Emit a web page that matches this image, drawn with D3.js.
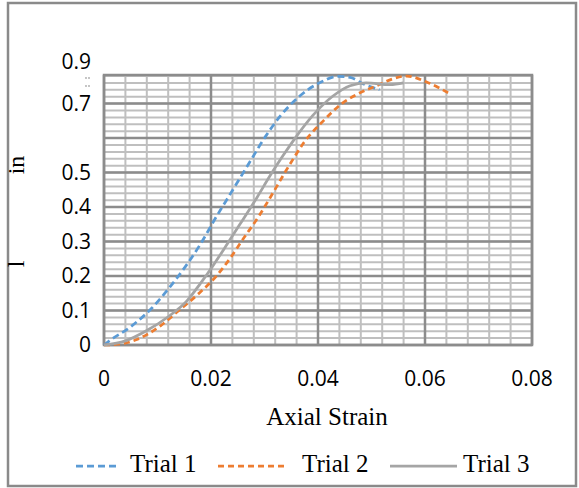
<!DOCTYPE html>
<html><head><meta charset="utf-8">
<script src="https://cdn.jsdelivr.net/npm/d3@7"></script>
<style>html,body{margin:0;padding:0;background:#fff;}</style>
</head><body>
<svg id="chart" width="579" height="488"></svg>
<script>
const trial1 = [[0,0],[0.001,0.012],[0.005,0.053],[0.009,0.108],[0.0123,0.168],[0.0157,0.238],[0.018,0.292],[0.021,0.372],[0.024,0.448],[0.0273,0.532],[0.0302,0.605],[0.033,0.665],[0.0366,0.722],[0.0405,0.762],[0.0437,0.779],[0.046,0.776],[0.0485,0.757],[0.0515,0.74]];
const trial2 = [[0,0],[0.003,0.003],[0.006,0.015],[0.008,0.03],[0.0105,0.055],[0.0136,0.095],[0.0174,0.145],[0.021,0.2],[0.0236,0.252],[0.0258,0.303],[0.029,0.375],[0.0307,0.418],[0.0323,0.46],[0.0338,0.5],[0.0355,0.543],[0.0374,0.588],[0.041,0.65],[0.0447,0.703],[0.0473,0.727],[0.051,0.752],[0.054,0.772],[0.0566,0.78],[0.0604,0.762],[0.0645,0.73]];
const trial3 = [[0,0],[0.004,0.012],[0.008,0.042],[0.012,0.082],[0.0155,0.128],[0.018,0.178],[0.0205,0.233],[0.0227,0.285],[0.0254,0.35],[0.0286,0.428],[0.031,0.49],[0.0335,0.55],[0.0355,0.595],[0.039,0.665],[0.0428,0.722],[0.046,0.752],[0.049,0.76],[0.0535,0.755],[0.056,0.76]];
const seriesNames = ["Trial 1","Trial 2","Trial 3"];
const xTickValues = [0,0.02,0.04,0.06,0.08];
const xTickLabels = ["0","0.02","0.04","0.06","0.08"];
const yTickValues = [0,0.1,0.2,0.3,0.4,0.5,0.7,0.82];
const yTickLabels = ["0","0.1","0.2","0.3","0.4","0.5","0.7","0.9"];
const xTitle = "Axial Strain";

const svg = d3.select("#chart");
const L=104, R=532, T=75, B=345;
const x = d3.scaleLinear().domain([0,0.08]).range([L,R]);
const y = d3.scaleLinear().domain([0,0.783]).range([B,T]);

// outer border
svg.append("rect").attr("x",8).attr("y",3).attr("width",568).attr("height",483)
  .attr("fill","#fff").attr("stroke","#8a8a8a").attr("stroke-width",2.5);

const g = svg.append("g");
// minor grid
const xMinor = d3.range(0,0.0801,0.004);
const yMinor = d3.range(0,0.781,0.02);
g.selectAll(".vmin").data(xMinor).join("line")
  .attr("x1",d=>x(d)).attr("x2",d=>x(d)).attr("y1",T).attr("y2",B)
  .attr("stroke","#bfbfbf").attr("stroke-width",2);
g.selectAll(".hmin").data(yMinor).join("line")
  .attr("y1",d=>y(d)).attr("y2",d=>y(d)).attr("x1",L).attr("x2",R)
  .attr("stroke","#bfbfbf").attr("stroke-width",2);
// major grid
g.selectAll(".vmaj").data(xTickValues).join("line")
  .attr("x1",d=>x(d)).attr("x2",d=>x(d)).attr("y1",T).attr("y2",B)
  .attr("stroke","#8c8c8c").attr("stroke-width",2.5);
g.selectAll(".hmaj").data(d3.range(0,0.75,0.1)).join("line")
  .attr("y1",d=>y(d)).attr("y2",d=>y(d)).attr("x1",L).attr("x2",R)
  .attr("stroke","#8c8c8c").attr("stroke-width",2.5);
g.append("rect").attr("x",L).attr("y",T).attr("width",R-L).attr("height",B-T)
  .attr("fill","none").attr("stroke","#8c8c8c").attr("stroke-width",2.5);

// lines
const line = d3.line().x(d=>x(d[0])).y(d=>y(d[1])).curve(d3.curveMonotoneX);
const styles = [
  {c:"#5b9bd5",dash:"7,4"},
  {c:"#ed7d31",dash:"6,4"},
  {c:"#a5a5a5",dash:null}
];
[trial1,trial2,trial3].forEach((data,i)=>{
  svg.append("path").datum(data).attr("d",line).attr("fill","none")
    .attr("stroke",styles[i].c).attr("stroke-width",2.75)
    .attr("stroke-dasharray",styles[i].dash);
});

// x tick labels
const tickFont = "'Open Sans', sans-serif";
svg.selectAll(".xl").data(xTickValues).join("text")
  .attr("x",d=>x(d)).attr("y",386).attr("text-anchor","middle")
  .attr("font-family",tickFont).attr("font-size",21).attr("fill","#000")
  .text((d,i)=>xTickLabels[i]);
// y tick labels
svg.selectAll(".yl").data(yTickValues).join("text")
  .attr("x",91).attr("y",d=>y(d)+7).attr("text-anchor","end")
  .attr("font-family",tickFont).attr("font-size",21).attr("fill","#000")
  .text((d,i)=>yTickLabels[i]);
// small dot artifacts near the top of the y axis
[[86,78],[89,78],[86,86],[89,86]].forEach(p=>{
  svg.append("circle").attr("cx",p[0]).attr("cy",p[1]).attr("r",0.9).attr("fill","#aaa");
});

// axis title
const serif = "'Liberation Serif','Times New Roman',serif";
svg.append("text").attr("x",327).attr("y",425).attr("text-anchor","middle")
  .attr("font-family",serif).attr("font-size",25).attr("fill","#000").text(xTitle);
// y title fragments
svg.append("text").attr("transform","translate(24,165) rotate(-90)").attr("text-anchor","middle")
  .attr("font-family",serif).attr("font-size",24).attr("fill","#000").text("in");
svg.append("text").attr("transform","translate(24,264) rotate(-90)").attr("text-anchor","middle")
  .attr("font-family",serif).attr("font-size",24).attr("fill","#000").text("l");

// legend
const legend = [
  {x1:76,x2:118,tx:130},
  {x1:218,x2:287,tx:302},
  {x1:390,x2:457,tx:463}
];
legend.forEach((l,i)=>{
  svg.append("line").attr("x1",l.x1).attr("x2",l.x2).attr("y1",466).attr("y2",466)
    .attr("stroke",styles[i].c).attr("stroke-width",2.75).attr("stroke-dasharray",styles[i].dash);
  svg.append("text").attr("x",l.tx).attr("y",472).attr("font-family",serif)
    .attr("font-size",25).attr("fill","#000").text(seriesNames[i]);
});
</script>
</body></html>
